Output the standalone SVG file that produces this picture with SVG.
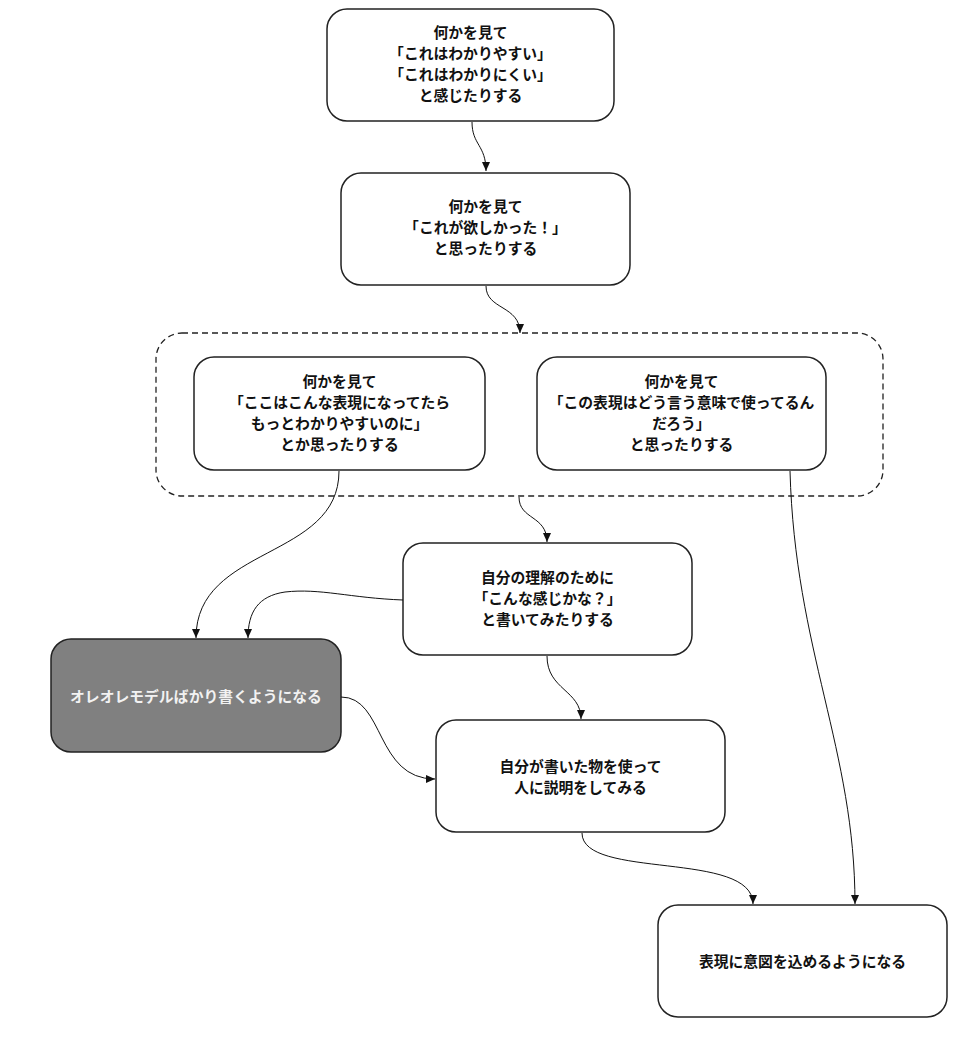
<svg xmlns="http://www.w3.org/2000/svg" width="963" height="1037" viewBox="0 0 963 1037">
<defs>
<style>
.n{fill:#fff;stroke:#222;stroke-width:1.5}
.d{fill:#808080;stroke:#222;stroke-width:1.5}
.g{fill:none;stroke:#222;stroke-width:1.3;stroke-dasharray:6 4}
.t{font-family:"Noto Sans CJK JP","Noto Sans",sans-serif;font-size:14.8px;font-weight:bold;fill:#111;text-anchor:middle}
.tw{fill:#f2f2f2}
.c{fill:none;stroke:#111;stroke-width:1}
</style>
<marker id="a" markerWidth="10" markerHeight="8" refX="9" refY="4" orient="auto" markerUnits="userSpaceOnUse">
<path d="M0,0 L9,4 L0,8 Z" fill="#111"/>
</marker>
</defs>
<rect width="963" height="1037" fill="#fff"/>
<g id="group1">
<rect class="g" x="156" y="333" width="727" height="163" rx="26"/>
</g>
<g id="n1">
<rect class="n" x="327" y="9" width="287" height="112" rx="20"/>
<text class="t" x="470.5" y="38">何かを見て</text>
<text class="t" x="470.5" y="59">「これはわかりやすい」</text>
<text class="t" x="470.5" y="80">「これはわかりにくい」</text>
<text class="t" x="470.5" y="101">と感じたりする</text>
</g>
<g id="n2">
<rect class="n" x="341" y="173" width="289" height="112" rx="20"/>
<text class="t" x="485.5" y="212">何かを見て</text>
<text class="t" x="485.5" y="233">「これが欲しかった！」</text>
<text class="t" x="485.5" y="254">と思ったりする</text>
</g>
<g id="n3">
<rect class="n" x="194" y="357" width="291" height="113" rx="20"/>
<text class="t" x="339.5" y="387">何かを見て</text>
<text class="t" x="339.5" y="408">「ここはこんな表現になってたら</text>
<text class="t" x="339.5" y="429">もっとわかりやすいのに」</text>
<text class="t" x="339.5" y="450">とか思ったりする</text>
</g>
<g id="n4">
<rect class="n" x="537" y="357" width="289" height="113" rx="20"/>
<text class="t" x="681.5" y="387">何かを見て</text>
<text class="t" x="681.5" y="408">「この表現はどう言う意味で使ってるん</text>
<text class="t" x="681.5" y="429">だろう」</text>
<text class="t" x="681.5" y="450">と思ったりする</text>
</g>
<g id="n5">
<rect class="n" x="403" y="543" width="289" height="112" rx="20"/>
<text class="t" x="547.5" y="583">自分の理解のために</text>
<text class="t" x="547.5" y="604">「こんな感じかな？」</text>
<text class="t" x="547.5" y="625">と書いてみたりする</text>
</g>
<g id="n6">
<rect class="d" x="51" y="639" width="290" height="113" rx="20"/>
<text class="t tw" x="196" y="702">オレオレモデルばかり書くようになる</text>
</g>
<g id="n7">
<rect class="n" x="436" y="720" width="289" height="112" rx="20"/>
<text class="t" x="580.5" y="772">自分が書いた物を使って</text>
<text class="t" x="580.5" y="793">人に説明をしてみる</text>
</g>
<g id="n8">
<rect class="n" x="658" y="905" width="289" height="112" rx="20"/>
<text class="t" x="802.5" y="967">表現に意図を込めるようになる</text>
</g>
<g id="connectors">
<path class="c" marker-end="url(#a)" d="M472,122 C472,145 486,145 486,171"/>
<path class="c" marker-end="url(#a)" d="M486,286 C486,310 520,305 520,333"/>
<path class="c" marker-end="url(#a)" d="M519,497 C519,520 547,515 547,542"/>
<path class="c" marker-end="url(#a)" d="M339,471 C339,560 196,545 196,638"/>
<path class="c" marker-end="url(#a)" d="M403,600 C350,598 320,588 285,592 C258,596 248,612 248,638"/>
<path class="c" marker-end="url(#a)" d="M341,697 C385,697 375,779 435,779"/>
<path class="c" marker-end="url(#a)" d="M547,656 C547,690 581,690 581,719"/>
<path class="c" marker-end="url(#a)" d="M582,833 C582,880 753,850 753,904"/>
<path class="c" marker-end="url(#a)" d="M790,471 C795,650 855,750 855,904"/>
</g>
</svg>
